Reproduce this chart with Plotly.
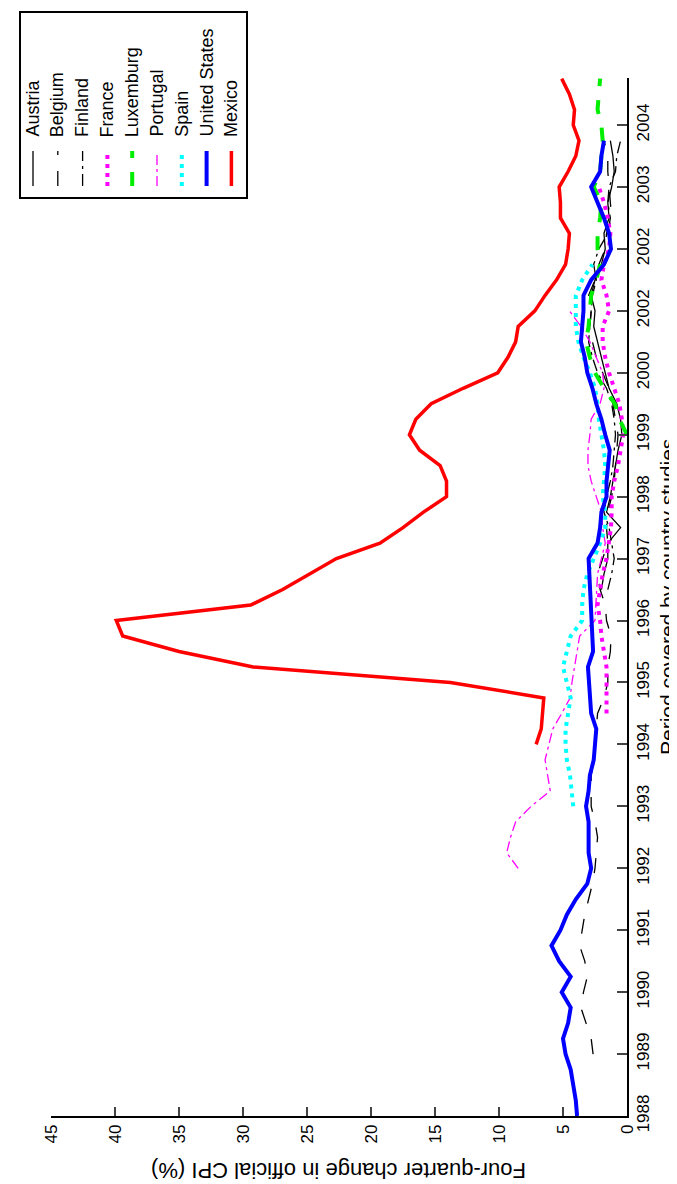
import plotly.graph_objects as go

# ---------------- data ----------------
countries = ["Austria", "Belgium", "Finland", "France", "Luxemburg",
             "Portugal", "Spain", "United States", "Mexico"]

# first quarter of each series (decimal year), values are quarterly
austria_start = 1996.5
austria = [2.0, 1.8, 1.5, 1.5, 0.5, 1.6, 1.3, 1.1, 0.9, 0.7, 0.4, 0.5, 0.8, 1.4,
           1.7, 2.0, 2.3, 2.6, 2.5, 2.8, 2.5, 2.0, 1.7, 1.8, 1.4, 1.5, 1.2, 1.0,
           1.1, 1.3]

belgium_start = 1989.0
belgium = [2.65, 2.8, 3.2, 3.6, 3.4, 3.1, 3.3, 3.7, 3.5, 3.3, 3.0, 2.7, 2.5, 2.4,
           2.3, 2.5, 2.8, 2.8, 2.8, 2.6, 2.5, 2.4, 2.3, 1.8, 1.5, 1.5, 1.3, 1.25,
           1.6, 1.7, 2.1, 2.3, 1.9, 1.5, 1.6, 1.5, 1.2, 1.0, 0.9, 0.8, 0.7, 0.9,
           1.1, 1.4, 1.9, 2.4, 2.7, 2.9, 2.8, 3.0, 2.5, 2.2, 1.7, 1.6, 1.2, 1.3,
           1.4, 1.5, 1.5, 1.8]

finland_start = 1996.5
finland = [1.5, 1.2, 1.0, 1.2, 1.4, 1.8, 1.6, 1.3, 1.1, 1.0, 0.9, 1.0, 1.2, 1.6,
           2.3, 2.7, 3.0, 2.9, 2.8, 2.7, 2.4, 2.6, 2.2, 1.5, 1.3, 1.5, 1.4, 0.9,
           0.8, 0.5]

france_start = 1994.5
france = [1.6, 1.6, 1.65, 1.6, 1.8, 2.0, 2.1, 2.3, 2.1, 1.9, 1.6, 1.4, 1.25, 1.2,
          1.2, 1.0, 0.7, 0.5, 0.3, 0.4, 0.6, 1.0, 1.4, 1.7, 1.9, 1.9, 1.4, 1.6,
          2.0, 1.8, 1.4, 1.3, 1.5, 1.8, 2.2]

luxemburg_start = 1999.0
luxemburg = [0.0, 0.6, 0.95, 1.8, 2.5, 2.9, 3.2, 3.0, 2.9, 2.8, 2.4, 2.1, 2.3, 2.3,
             2.1, 2.0, 2.6, 2.1, 2.0, 1.9, 2.0, 2.3, 2.2, 2.1]

portugal_start = 1992.0
portugal = [8.5, 9.4, 9.1, 8.7, 7.5, 6.0, 6.2, 6.4, 6.1, 5.8, 5.1, 4.45, 4.3, 4.1,
            3.9, 3.7, 2.5, 2.45, 2.4, 2.3, 2.0, 1.7, 1.9, 2.0, 2.4, 2.8, 3.05,
            3.05, 2.9, 2.8, 2.1, 1.8, 1.9, 2.4, 2.9, 3.6, 4.5]

spain_start = 1993.0
spain = [4.2, 4.3, 4.45, 4.7, 4.8, 4.8, 4.6, 4.4, 4.7, 5.0, 4.7, 4.4, 3.5, 3.5,
         3.4, 3.1, 2.6, 2.1, 1.7, 1.7, 1.9, 1.8, 1.7, 1.8, 2.0, 2.2, 2.3, 2.5,
         2.9, 3.4, 3.8, 4.0, 4.0, 4.0, 3.5, 2.7]

us_start = 1988.0
us = [3.9, 4.0, 4.2, 4.4, 4.8, 5.0, 4.6, 4.4, 5.1, 4.4, 5.3, 5.9, 5.2, 4.7, 4.0,
      3.1, 2.8, 3.0, 3.0, 3.0, 3.2, 3.0, 2.9, 2.6, 2.5, 2.4, 2.8, 2.9, 3.0, 3.05,
      2.65, 2.7, 2.75, 2.8, 2.85, 2.9, 3.0, 2.3, 2.1, 2.0, 1.6, 1.6, 1.5, 1.35,
      1.7, 2.0, 2.4, 2.7, 3.1, 3.3, 3.6, 3.5, 3.4, 3.4, 2.8, 1.8, 1.25, 1.4, 1.8,
      2.3, 2.8, 2.1, 2.0, 1.8]

mexico_start = 1994.0
mexico = [7.1, 6.7, 6.6, 6.5, 13.8, 29.2, 35.0, 39.4, 39.9, 29.4, 26.9, 24.8,
          22.7, 19.3, 17.5, 15.9, 14.1, 14.1, 14.6, 16.2, 17.0, 16.5, 15.3, 12.8,
          10.1, 9.3, 8.7, 8.5, 7.2, 6.4, 5.5, 4.8, 4.6, 4.5, 5.2, 5.2, 5.3, 4.6,
          4.0, 3.75, 4.2, 4.1, 4.5, 5.1]

year_ticks = list(range(1988, 2005))
year_labels = ["1988", "1989", "1990", "1991", "1992", "1993", "1994", "1995",
               "1996", "1997", "1998", "1999", "2000", "2002", "2002", "2003",
               "2004"]
cpi_ticks = [0, 5, 10, 15, 20, 25, 30, 35, 40, 45]

# ---------------- styles ----------------
series = [
    (austria_start, austria, "black", 1.3, "solid"),
    (belgium_start, belgium, "black", 1.3, "15px,16px"),
    (finland_start, finland, "black", 1.3, "12px,5px,3px,5px"),
    (france_start, france, "#ff00ff", 4, "4px,5px"),
    (luxemburg_start, luxemburg, "#00ee00", 4, "14px,14px"),
    (portugal_start, portugal, "#ff00ff", 1.3, "10px,4px,3px,4px"),
    (spain_start, spain, "#00ffff", 4, "4px,5px"),
    (us_start, us, "#0000ff", 4, "solid"),
    (mexico_start, mexico, "#ff0000", 3.5, "solid"),
]

W, H = 677, 1184
L, R, T, B = 43, 58, 70, 76
PW, PH = W - L - R, H - T - B
FONT = "Liberation Sans, Arial, sans-serif"

fig = go.Figure()
for name, (start, vals, col, wd, dash) in zip(countries, series):
    t = [start + 0.25 * i for i in range(len(vals))]
    fig.add_trace(go.Scatter(x=vals, y=t, mode="lines", name=name,
                             line=dict(color=col, width=wd, dash=dash),
                             showlegend=False))


def px_x(px):
    return (px - L) / PW


def px_y(py):
    return (H - B - py) / PH


# legend box
shapes = [dict(type="rect", xref="paper", yref="paper",
               x0=px_x(12), x1=px_x(239), y0=px_y(190), y1=px_y(4),
               line=dict(color="black", width=2), fillcolor="white")]
annotations = []
for i, (name, (start, vals, col, wd, dash)) in enumerate(zip(countries, series)):
    cx = 25 + 24.8 * i
    shapes.append(dict(type="line", xref="paper", yref="paper",
                       x0=px_x(cx), x1=px_x(cx), y0=px_y(178), y1=px_y(143),
                       line=dict(color=col, width=wd, dash=dash)))
    annotations.append(dict(text=name, xref="paper", yref="paper",
                            x=px_x(cx), y=px_y(131), xanchor="center",
                            yanchor="bottom", textangle=-90, showarrow=False,
                            font=dict(family=FONT, size=18, color="black")))

annotations.append(dict(text="Period covered by country studies",
                        xref="paper", yref="paper", x=px_x(659), y=0.5,
                        xanchor="center", yanchor="middle", textangle=-90,
                        showarrow=False,
                        font=dict(family=FONT, size=21, color="black")))
annotations.append(dict(text="Four-quarter change in official CPI (%)",
                        xref="paper", yref="paper", x=0.5, y=px_y(1163),
                        xanchor="center", yanchor="middle", textangle=180,
                        showarrow=False,
                        font=dict(family=FONT, size=22, color="black")))

fig.update_layout(
    width=W, height=H,
    margin=dict(l=L, r=R, t=T, b=B, pad=0),
    paper_bgcolor="white", plot_bgcolor="white",
    font=dict(family=FONT, size=17, color="black"),
    shapes=shapes, annotations=annotations,
    xaxis=dict(range=[45, 0], tickvals=cpi_ticks, ticks="inside", ticklen=9,
               tickwidth=1.5, tickangle=-90, showline=True, linecolor="black",
               linewidth=1.5, showgrid=False, zeroline=False,
               tickfont=dict(family=FONT, size=17)),
    yaxis=dict(range=[1988, 2004.76], side="right", tickvals=year_ticks,
               ticktext=year_labels, ticks="inside", ticklen=10,
               tickwidth=1.5, tickangle=-90, showline=True, linecolor="black",
               linewidth=1.5, showgrid=False, zeroline=False,
               tickfont=dict(family=FONT, size=17)),
)

fig.write_html("out.html")
